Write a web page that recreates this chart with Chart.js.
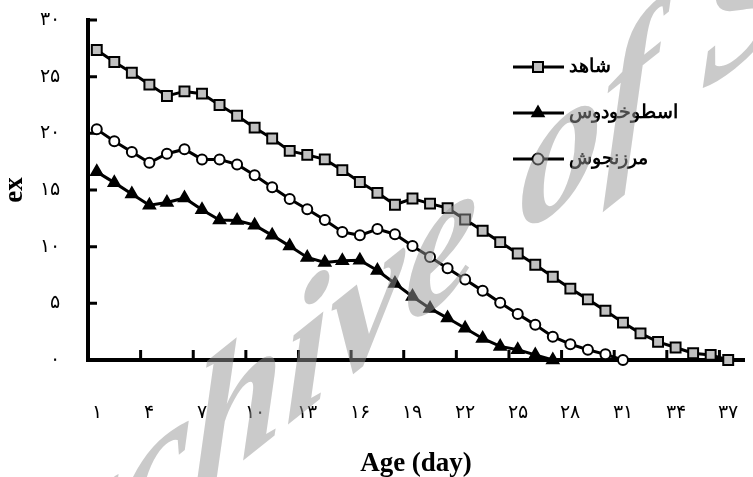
<!DOCTYPE html>
<html>
<head>
  <title>ex - Age (day)</title>
  <script src="https://cdn.jsdelivr.net/npm/chart.js"></script>
  <style>
    body { margin: 0; background: #fff; }
  </style>
</head>
<body>
  <canvas id="ex-chart" width="753" height="477"></canvas>

  <script>
    // Datos
    var days = [1, 2, 3, 4, 5, 6, 7, 8, 9, 10, 11, 12, 13, 14, 15, 16, 17, 18, 19,
                20, 21, 22, 23, 24, 25, 26, 27, 28, 29, 30, 31, 32, 33, 34, 35, 36, 37];
    var tickDays = [1, 4, 7, 10, 13, 16, 19, 22, 25, 28, 31, 34, 37];
    var yTicks = [0, 5, 10, 15, 20, 25, 30];
    var seriesNames = ['شاهد', 'اسطوخودوس', 'مرزنجوش'];

    var control = [27.35, 26.3, 25.35, 24.3, 23.3, 23.7, 23.5, 22.5, 21.55, 20.5,
                   19.55, 18.45, 18.1, 17.7, 16.75, 15.7, 14.75, 13.7, 14.25, 13.8,
                   13.4, 12.4, 11.4, 10.4, 9.4, 8.4, 7.35, 6.3, 5.35, 4.35,
                   3.3, 2.35, 1.6, 1.1, 0.6, 0.45, 0];
    var lavender = [16.6, 15.65, 14.65, 13.65, 13.9, 14.3, 13.25, 12.35, 12.3, 11.9,
                    11.0, 10.05, 9.05, 8.6, 8.75, 8.8, 7.9, 6.75, 5.6, 4.55,
                    3.7, 2.8, 1.9, 1.2, 0.9, 0.45, 0];
    var marjoram = [20.35, 19.3, 18.35, 17.4, 18.2, 18.6, 17.7, 17.7, 17.25, 16.3,
                    15.25, 14.2, 13.3, 12.35, 11.3, 11.0, 11.55, 11.1, 10.05, 9.08,
                    8.1, 7.1, 6.1, 5.06, 4.06, 3.1, 2.06, 1.4, 0.9, 0.5, 0];

    var faDigits = '۰۱۲۳۴۵۶۷۸۹';
    function toFa(n) {
      return String(n).replace(/[0-9]/g, function(d) { return faDigits[+d]; });
    }

    var serif = "'Liberation Serif', 'DejaVu Serif', serif";

    // marcas de los ejes hacia adentro
    var tickMarks = {
      id: 'tickMarks',
      beforeDatasetsDraw: function(chart) {
        var ctx = chart.ctx, xs = chart.scales.x, ys = chart.scales.y;
        var bottom = chart.chartArea.bottom, left = chart.chartArea.left;
        ctx.save();
        ctx.strokeStyle = '#000';
        ctx.lineWidth = 3;
        ctx.beginPath();
        tickDays.forEach(function(d) {
          var px = xs.getPixelForValue(d - 0.5);
          ctx.moveTo(px, bottom);
          ctx.lineTo(px, bottom - 10);
        });
        yTicks.forEach(function(v) {
          var py = ys.getPixelForValue(v);
          ctx.moveTo(left, py);
          ctx.lineTo(left + 9, py);
        });
        ctx.stroke();
        ctx.restore();
      }
    };

    function drawMarker(ctx, style, x, y) {
      ctx.lineWidth = 2;
      ctx.strokeStyle = '#000';
      ctx.beginPath();
      if (style === 'rect') {
        ctx.fillStyle = '#c0c0c0';
        ctx.rect(x - 5, y - 5, 10, 10);
      } else if (style === 'triangle') {
        ctx.fillStyle = '#000';
        ctx.moveTo(x, y - 6.5);
        ctx.lineTo(x + 5.6, y + 3.3);
        ctx.lineTo(x - 5.6, y + 3.3);
        ctx.closePath();
      } else {
        ctx.fillStyle = '#fff';
        ctx.arc(x, y, 5.5, 0, Math.PI * 2);
      }
      ctx.fill();
      ctx.stroke();
    }

    var sideLegend = {
      id: 'sideLegend',
      afterDatasetsDraw: function(chart) {
        var ctx = chart.ctx;
        ctx.save();
        chart.data.datasets.forEach(function(ds, i) {
          var y = 67 + i * 46;
          ctx.strokeStyle = '#000';
          ctx.lineWidth = 3;
          ctx.beginPath();
          ctx.moveTo(513, y);
          ctx.lineTo(564, y);
          ctx.stroke();
          drawMarker(ctx, ds.pointStyle, 538, y);
          ctx.fillStyle = '#000';
          ctx.font = "bold 19px " + serif;
          ctx.textAlign = 'left';
          ctx.textBaseline = 'middle';
          ctx.fillText(ds.label, 569, y);
        });
        ctx.restore();
      }
    };

    // marca de agua inclinada
    var watermark = {
      id: 'watermark',
      afterDraw: function(chart) {
        var ctx = chart.ctx;
        ctx.save();
        ctx.transform(0.9, -0.72, 0, 1, 0, 655);
        ctx.font = "bold italic 185px " + serif;
        ctx.textAlign = 'left';
        ctx.textBaseline = 'alphabetic';
        ctx.fillStyle = 'rgba(150, 150, 150, 0.5)';
        ctx.fillText('Archive of SID', -65, 0);
        ctx.restore();
      }
    };

    function noPad(scale) {
      scale.paddingLeft = 0;
      scale.paddingRight = 0;
      scale.paddingTop = 0;
      scale.paddingBottom = 0;
    }

    var config = {
      type: 'line',
      data: {
        labels: days,
        datasets: [{
          label: seriesNames[0],
          data: control,
          pointStyle: 'rect',
          pointRadius: 7,
          pointBackgroundColor: '#c0c0c0'
        }, {
          label: seriesNames[1],
          data: lavender,
          pointStyle: 'triangle',
          pointRadius: 6.5,
          pointBackgroundColor: '#000'
        }, {
          label: seriesNames[2],
          data: marjoram,
          pointStyle: 'circle',
          pointRadius: 5,
          pointBackgroundColor: '#fff'
        }]
      },
      options: {
        responsive: false,
        animation: false,
        clip: false,
        layout: { padding: { top: 20, right: 0, left: 0, bottom: 0 } },
        elements: {
          line: { borderColor: '#000', borderWidth: 3, tension: 0 },
          point: { borderColor: '#000', borderWidth: 2, hoverRadius: 7 }
        },
        plugins: {
          legend: { display: false },
          tooltip: { enabled: false }
        },
        scales: {
          x: {
            type: 'linear',
            min: 0.5,
            max: 37.9,
            afterBuildTicks: function(scale) {
              scale.ticks = tickDays.map(function(v) { return { value: v }; });
            },
            afterFit: function(scale) { scale.height = 117; noPad(scale); },
            grid: { display: false, drawTicks: false },
            border: { display: true, color: '#000', width: 4 },
            ticks: {
              padding: 42,
              color: '#000',
              font: { family: serif, size: 19 },
              maxRotation: 0,
              autoSkip: false,
              callback: function(v) { return toFa(v); }
            },
            title: {
              display: true,
              text: 'Age (day)',
              color: '#000',
              font: { family: serif, size: 27, weight: 'bold', lineHeight: 1 },
              padding: { top: 0, bottom: -1 }
            }
          },
          y: {
            min: 0,
            max: 30,
            afterBuildTicks: function(scale) {
              scale.ticks = yTicks.map(function(v) { return { value: v }; });
            },
            afterFit: function(scale) { scale.width = 88; noPad(scale); },
            grid: { display: false, drawTicks: false },
            border: { display: true, color: '#000', width: 4 },
            ticks: {
              padding: 28,
              color: '#000',
              font: { family: serif, size: 19 },
              callback: function(v) { return toFa(v); }
            },
            title: {
              display: true,
              text: 'ex',
              color: '#000',
              font: { family: serif, size: 27, weight: 'bold', lineHeight: 1 },
              padding: { top: 2, bottom: 0 }
            }
          }
        }
      },
      plugins: [tickMarks, sideLegend, watermark]
    };

    var ctx = document.getElementById('ex-chart').getContext('2d');
    var chart = new Chart(ctx, config);
  </script>
</body>
</html>
